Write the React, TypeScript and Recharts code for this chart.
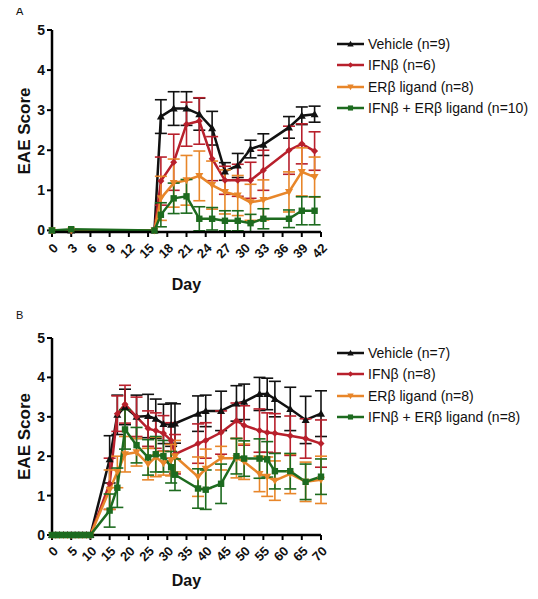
import React from 'react';
import { LineChart, Line, XAxis, YAxis, ErrorBar, Legend } from 'recharts';

const FONT = '"Liberation Sans", Arial, Helvetica, sans-serif';
const COLORS: Record<string, string> = {
  vehicle: '#111111',
  ifn: '#b8202c',
  erb: '#e8862a',
  combo: '#1d6b1f',
};

// ---------- Panel A ----------
const daysA = [0, 3, 16, 17, 19, 21, 23, 25, 27, 29, 31, 33, 37, 39, 41];
const vehicleA = [0, 0, 0, 2.84, 3.04, 3.04, 2.9, 2.55, 1.47, 1.62, 2.03, 2.14, 2.57, 2.86, 2.9];
const vehicleErrA = [0, 0, 0, 0.42, 0.42, 0.42, 0.4, 0.42, 0.22, 0.3, 0.22, 0.27, 0.27, 0.22, 0.2];
const ifnA = [0, 0, 0, 1.23, 1.7, 2.65, 2.73, 1.79, 1.25, 1.25, 1.25, 1.5, 2.0, 2.16, 1.98];
const ifnErrA = [0, 0, 0, 0.6, 0.7, 0.55, 0.58, 0.55, 0.35, 0.4, 0.45, 0.5, 0.6, 0.5, 0.48];
const erbA = [0, 0, 0, 0.8, 1.18, 1.25, 1.36, 1.13, 0.96, 0.87, 0.7, 0.76, 0.96, 1.46, 1.33];
const erbErrA = [0, 0, 0, 0.55, 0.6, 0.62, 0.62, 0.6, 0.55, 0.5, 0.45, 0.5, 0.5, 0.6, 0.5];
const comboA = [0, 0.03, 0, 0.39, 0.8, 0.85, 0.29, 0.29, 0.24, 0.24, 0.18, 0.29, 0.29, 0.49, 0.49];
const comboErrA = [0, 0, 0, 0.3, 0.38, 0.42, 0.3, 0.28, 0.25, 0.25, 0.22, 0.25, 0.22, 0.35, 0.35];
const ticksA = [0, 3, 6, 9, 12, 15, 18, 21, 24, 27, 30, 33, 36, 39, 42];
const namesA = ['Vehicle (n=9)', 'IFNβ (n=6)', 'ERβ ligand (n=8)', 'IFNβ + ERβ ligand (n=10)'];

// ---------- Panel B ----------
const daysB = [0, 1, 2, 3, 4, 5, 6, 7, 8, 9, 10, 15, 17, 19, 22, 25, 27, 29, 31, 32, 38, 40, 44, 48, 50, 54, 56, 58, 62, 66, 70];
const vehicleB = [0, 0, 0, 0, 0, 0, 0, 0, 0, 0, 0, 1.92, 3.05, 3.25, 3.0, 3.02, 2.95, 2.82, 2.8, 2.83, 3.08, 3.15, 3.15, 3.34, 3.38, 3.58, 3.58, 3.45, 3.2, 2.92, 3.08];
const vehicleErrB = [0, 0, 0, 0, 0, 0, 0, 0, 0, 0, 0, 0.6, 0.5, 0.45, 0.55, 0.55, 0.5, 0.5, 0.55, 0.5, 0.45, 0.4, 0.5, 0.45, 0.45, 0.42, 0.4, 0.45, 0.55, 0.6, 0.58];
const ifnB = [0, 0, 0, 0, 0, 0, 0, 0, 0, 0, 0, 1.3, 3.08, 3.32, 3.0, 2.7, 2.65, 2.58, 2.4, 2.05, 2.32, 2.4, 2.6, 2.9, 2.78, 2.65, 2.6, 2.58, 2.52, 2.45, 2.32];
const ifnErrB = [0, 0, 0, 0, 0, 0, 0, 0, 0, 0, 0, 0.65, 0.45, 0.48, 0.5, 0.45, 0.45, 0.45, 0.45, 0.5, 0.5, 0.45, 0.55, 0.45, 0.5, 0.55, 0.5, 0.5, 0.5, 0.5, 0.6];
const erbB = [0, 0, 0, 0, 0, 0, 0, 0, 0, 0, 0, 1.15, 1.6, 2.05, 2.1, 1.8, 1.98, 1.82, 1.9, 2.0, 1.48, 1.68, 1.95, 1.95, 1.86, 1.55, 1.48, 1.38, 1.55, 1.35, 1.4];
const erbErrB = [0, 0, 0, 0, 0, 0, 0, 0, 0, 0, 0, 0.5, 0.4, 0.45, 0.35, 0.4, 0.5, 0.3, 0.4, 0.4, 0.5, 0.5, 0.3, 0.5, 0.45, 0.45, 0.5, 0.5, 0.5, 0.5, 0.6];
const comboB = [0, 0, 0, 0, 0, 0, 0, 0, 0, 0, 0, 0.62, 1.2, 2.68, 2.28, 1.97, 2.05, 2.0, 1.72, 1.53, 1.18, 1.15, 1.3, 2.0, 1.94, 1.94, 1.92, 1.62, 1.62, 1.35, 1.48];
const comboErrB = [0, 0, 0, 0, 0, 0, 0, 0, 0, 0, 0, 0.42, 0.5, 0.5, 0.45, 0.45, 0.45, 0.4, 0.4, 0.4, 0.5, 0.5, 0.5, 0.45, 0.45, 0.5, 0.45, 0.45, 0.45, 0.45, 0.45];
const ticksB = [0, 5, 10, 15, 20, 25, 30, 35, 40, 45, 50, 55, 60, 65, 70];
const namesB = ['Vehicle (n=7)', 'IFNβ (n=8)', 'ERβ ligand (n=8)', 'IFNβ + ERβ ligand (n=8)'];

const yTicks = [0, 1, 2, 3, 4, 5];

function buildRows(days: number[], v: number[], ve: number[], i: number[], ie: number[], e: number[], ee: number[], c: number[], ce: number[]) {
  return days.map((d, k) => ({
    day: d,
    vehicle: v[k], vehicleErr: ve[k],
    ifn: i[k], ifnErr: ie[k],
    erb: e[k], erbErr: ee[k],
    combo: c[k], comboErr: ce[k],
  }));
}

const rowsA = buildRows(daysA, vehicleA, vehicleErrA, ifnA, ifnErrA, erbA, erbErrA, comboA, comboErrA);
const rowsB = buildRows(daysB, vehicleB, vehicleErrB, ifnB, ifnErrB, erbB, erbErrB, comboB, comboErrB);

const SERIES = ['vehicle', 'ifn', 'erb', 'combo'];

function markerShape(kind: string, cx: number, cy: number, color: string, s = 1) {
  if (kind === 'vehicle') {
    const r = 4 * s;
    return <polygon points={`${cx},${cy - r} ${cx - r},${cy + r * 0.75} ${cx + r},${cy + r * 0.75}`} fill={color} />;
  }
  if (kind === 'ifn') {
    const r = 3.5 * s;
    return <polygon points={`${cx},${cy - r} ${cx + r},${cy} ${cx},${cy + r} ${cx - r},${cy}`} fill={color} />;
  }
  if (kind === 'erb') {
    const r = 4 * s;
    return <polygon points={`${cx},${cy + r} ${cx - r},${cy - r * 0.75} ${cx + r},${cy - r * 0.75}`} fill={color} />;
  }
  const h = 3.2 * s;
  return <rect x={cx - h} y={cy - h} width={h * 2} height={h * 2} fill={color} />;
}

function makeDot(kind: string) {
  return (props: any) => {
    const { cx, cy, index } = props;
    if (cx == null || cy == null || isNaN(cx) || isNaN(cy)) return <g key={`d-${kind}-${index}`} />;
    return <g key={`d-${kind}-${index}`}>{markerShape(kind, cx, cy, COLORS[kind])}</g>;
  };
}

const XTick = (props: any) => {
  const { x, y, payload } = props;
  return (
    <g transform={`translate(${x + 4},${y + 7})`}>
      <text x={0} y={0} textAnchor="end" transform="rotate(-45)" fontFamily={FONT} fontWeight="bold" fontSize={13} fill="#111" dy={4}>
        {payload.value}
      </text>
    </g>
  );
};

const LegendContent = (props: any) => {
  const payload = [...(props.payload || [])].sort(
    (a: any, b: any) => SERIES.indexOf(a.dataKey) - SERIES.indexOf(b.dataKey)
  );
  return (
    <div style={{ fontFamily: FONT, fontSize: 14, color: '#111' }}>
      {payload.map((p: any) => (
        <div key={p.dataKey} style={{ display: 'flex', alignItems: 'center', height: 21.5, whiteSpace: 'nowrap' }}>
          <svg width={30} height={12} style={{ display: 'block' }}>
            <line x1={1} x2={28} y1={6} y2={6} stroke={COLORS[p.dataKey]} strokeWidth={2.5} />
            {markerShape(p.dataKey, 14.5, 6, COLORS[p.dataKey], 0.8)}
          </svg>
          <span style={{ marginLeft: 2 }}>{p.value}</span>
        </div>
      ))}
    </div>
  );
};

function Panel(props: { rows: any[]; ticks: number[]; max: number; names: string[]; marginTop: number; xHeight: number; legendTop: number; dayOffset: number }) {
  const { rows, ticks, max, names, marginTop, xHeight, legendTop, dayOffset } = props;
  return (
    <LineChart width={538} height={300} data={rows} margin={{ top: marginTop, right: 217, bottom: 8, left: 0 }}>
      <XAxis
        dataKey="day"
        type="number"
        domain={[0, max]}
        ticks={ticks}
        interval={0}
        height={xHeight}
        tick={<XTick />}
        tickSize={5}
        axisLine={{ stroke: '#000', strokeWidth: 2.5 }}
        tickLine={{ stroke: '#000', strokeWidth: 2 }}
        label={{ value: 'Day', position: 'insideBottom', offset: dayOffset, fontFamily: FONT, fontWeight: 'bold', fontSize: 16, fill: '#111' }}
      />
      <YAxis
        type="number"
        domain={[0, 5]}
        ticks={yTicks}
        width={52}
        tickSize={5}
        tickMargin={2}
        axisLine={{ stroke: '#000', strokeWidth: 2.5 }}
        tickLine={{ stroke: '#000', strokeWidth: 2 }}
        tick={{ fontFamily: FONT, fontWeight: 'bold', fontSize: 14, fill: '#111' }}
        label={{ value: 'EAE Score', angle: -90, position: 'center', dx: -2, fontFamily: FONT, fontWeight: 'bold', fontSize: 17, fill: '#111' }}
      />
      <Legend
        layout="vertical"
        align="center"
        verticalAlign="middle"
        content={<LegendContent />}
        wrapperStyle={{ left: 336, top: legendTop, width: 200 }}
      />
      {SERIES.map((s, k) => (
        <Line
          key={s}
          dataKey={s}
          name={names[k]}
          type="linear"
          stroke={COLORS[s]}
          strokeWidth={2.5}
          dot={makeDot(s)}
          activeDot={false}
          isAnimationActive={false}
        >
          <ErrorBar dataKey={`${s}Err`} direction="y" width={6} stroke={COLORS[s]} strokeWidth={1.6} />
        </Line>
      ))}
    </LineChart>
  );
}

export default function App() {
  return (
    <div style={{ position: 'relative', width: 538, height: 599, margin: -8, background: '#fff', overflow: 'hidden' }}>
      <div style={{ position: 'absolute', left: 16, top: 5, fontFamily: FONT, fontSize: 11, color: '#111' }}>A</div>
      <div style={{ position: 'absolute', left: 16, top: 309, fontFamily: FONT, fontSize: 11, color: '#111' }}>B</div>
      <div style={{ position: 'absolute', left: 0, top: 0 }}>
        <Panel rows={rowsA} ticks={ticksA} max={42} names={namesA} marginTop={30} xHeight={60} legendTop={33} dayOffset={2} />
      </div>
      <div style={{ position: 'absolute', left: 0, top: 300 }}>
        <Panel rows={rowsB} ticks={ticksB} max={70} names={namesB} marginTop={38} xHeight={57} legendTop={42} dayOffset={6} />
      </div>
    </div>
  );
}
